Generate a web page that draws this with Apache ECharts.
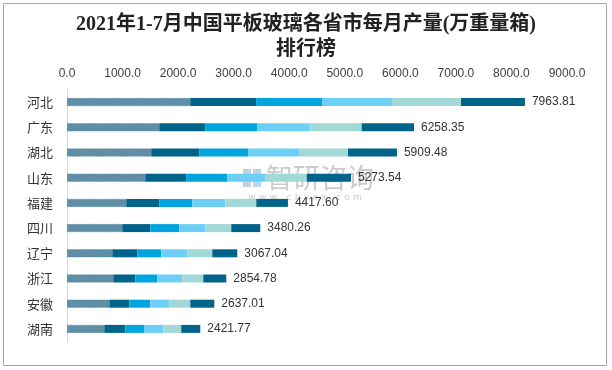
<!DOCTYPE html>
<html>
<head>
<meta charset="utf-8">
<script src="https://cdn.jsdelivr.net/npm/echarts@6/dist/echarts.min.js"></script>
<style>
html,body{margin:0;padding:0;background:#fff;}
#chart{width:612px;height:370px;}
</style>
</head>
<body>
<div id="chart"></div>
<script>
// Categories (top to bottom)
const provinces = ['河北','广东','湖北','山东','福建','四川','辽宁','浙江','安徽','湖南'];
// Segments: Jan-Feb, Mar, Apr, May, Jun, Jul
const seg1 = [2218, 1660, 1516, 1408, 1067, 995, 815, 833, 761, 671];
const seg2 = [1187,  827,  863,  737,  594, 504, 450, 396, 360, 378];
const seg3 = [1187,  935,  881,  737,  594, 522, 432, 396, 378, 342];
const seg4 = [1259,  935,  917,  683,  594, 468, 468, 450, 342, 342];
const seg5 = [1241,  948,  881,  750,  558, 468, 450, 378, 378, 324];
const seg6 = [1151,  941,  881,  797,  570, 522, 450, 414, 432, 342];
// Total labels shown at bar ends
const totals = ['7963.81','6258.35','5909.48','5273.54','4417.60','3480.26','3067.04','2854.78','2637.01','2421.77'];
const axisTicks = [0,1000,2000,3000,4000,5000,6000,7000,8000,9000];

const colors = ['#5f8fa7','#006389','#00a5dd','#6dcff6','#a2d8d5','#006389'];
const segs = [seg1, seg2, seg3, seg4, seg5, seg6];

const chart = echarts.init(document.getElementById('chart'), null, {renderer:'canvas'});
const series = segs.map((d, i) => {
  const s = {
    type: 'bar',
    stack: 'total',
    data: d,
    barWidth: 8,
    itemStyle: { color: colors[i] },
    emphasis: { disabled: true },
    animation: false
  };
  if (i === 0) {
    s.itemStyle.borderColor = '#537f97';
    s.itemStyle.borderWidth = 0.5;
    s.itemStyle.borderType = 'dashed';
  }
  if (i === segs.length - 1) {
    s.label = {
      show: true,
      position: 'right',
      distance: 7,
      formatter: p => totals[p.dataIndex],
      color: '#333',
      fontSize: 12,
      fontFamily: 'Liberation Sans, Arial, sans-serif'
    };
  }
  return s;
});

chart.setOption({
  animation: false,
  title: {
    text: '2021年1-7月中国平板玻璃各省市每月产量(万重量箱)\n排行榜',
    left: 'center',
    top: 7,
    textStyle: {
      fontSize: 20,
      fontWeight: 'bold',
      color: '#222',
      lineHeight: 25,
      fontFamily: '"Liberation Serif", "Noto Sans CJK SC", serif'
    }
  },
  grid: { left: 67, right: 45, top: 89.5, bottom: 28.5, containLabel: false },
  xAxis: {
    type: 'value',
    position: 'top',
    min: axisTicks[0],
    max: axisTicks[axisTicks.length - 1],
    interval: 1000,
    axisLine: { show: false },
    axisTick: { show: false },
    splitLine: { show: false },
    axisLabel: {
      formatter: v => v.toFixed(1),
      color: '#404040',
      fontSize: 12,
      margin: 10,
      fontFamily: 'Liberation Sans, Arial, sans-serif'
    }
  },
  yAxis: {
    type: 'category',
    inverse: true,
    data: provinces,
    axisLine: { show: true, lineStyle: { color: '#d9d9d9', width: 1 } },
    axisTick: { show: false },
    axisLabel: {
      color: '#333',
      fontSize: 13,
      margin: 14,
      fontFamily: '"Noto Sans CJK SC", sans-serif'
    }
  },
  series: series,
  graphic: [
    {
      type: 'rect',
      shape: { x: 3.5, y: 3.5, width: 603, height: 362 },
      style: { fill: 'none', stroke: '#a6a6a6', lineWidth: 1 },
      silent: true, z: 0
    },
    {
      type: 'group', z: 100, silent: true,
      children: [
        { type: 'rect', shape: { x: 243, y: 169, width: 8, height: 8 }, style: { fill: 'rgba(120,150,200,0.45)' } },
        { type: 'rect', shape: { x: 253, y: 169, width: 8, height: 8 }, style: { fill: 'rgba(120,150,200,0.45)' } },
        { type: 'rect', shape: { x: 243, y: 179, width: 8, height: 8 }, style: { fill: 'rgba(120,150,200,0.45)' } },
        { type: 'rect', shape: { x: 253, y: 179, width: 8, height: 8 }, style: { fill: 'rgba(90,170,230,0.45)' } },
        { type: 'text', style: { x: 266, y: 164, text: '智研咨询', fill: 'rgba(140,140,140,0.45)', fontSize: 27, fontFamily: '"Noto Sans CJK SC", sans-serif' } },
        { type: 'text', style: { x: 248, y: 193, text: 'w w w . c h y x x . c o m', fill: 'rgba(140,140,140,0.45)', fontSize: 9.5, fontFamily: 'DejaVu Sans, sans-serif' } }
      ]
    }
  ]
});
</script>
</body>
</html>
